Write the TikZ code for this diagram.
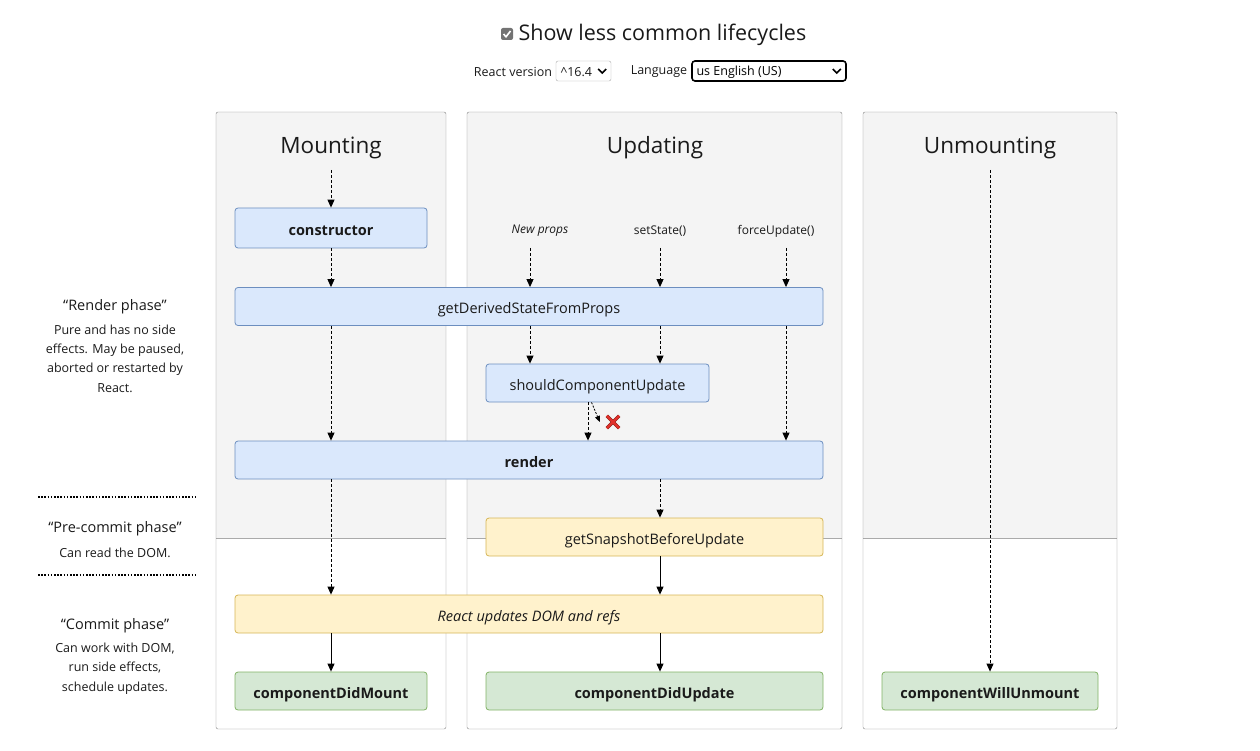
\documentclass[tikz,border=0pt]{standalone}
\usepackage{fontspec}
\setmainfont{Open Sans}
\usetikzlibrary{arrows.meta, positioning, calc}
\definecolor{RLBlueFill}{HTML}{DAE8FC}
\definecolor{RLBlueLine}{HTML}{6C8EBF}
\definecolor{RLYellowFill}{HTML}{FFF2CC}
\definecolor{RLYellowLine}{HTML}{D6B656}
\definecolor{RLGreenFill}{HTML}{D5E8D4}
\definecolor{RLGreenLine}{HTML}{82B366}
\definecolor{RLPanel}{HTML}{F4F4F4}
\definecolor{RLFrame}{HTML}{858585}
\definecolor{RLRule}{HTML}{AAAAAA}
\definecolor{RLText}{HTML}{1A1A1A}
\definecolor{RLRed}{HTML}{E0302A}
\definecolor{RLDarkRed}{HTML}{8A1A14}

\begin{document}
\begin{tikzpicture}[x=1pt, y=-1pt,
      box/.style={rectangle, rounded corners=3pt, line width=0.8pt,
                  minimum height=38pt, inner sep=0pt, text=RLText,
                  text height=14.5pt, text depth=0pt,
                  font=\fontsize{14.5}{17}\selectfont},
      blue/.style={box, draw=RLBlueLine, fill=RLBlueFill},
      yellow/.style={box, draw=RLYellowLine, fill=RLYellowFill},
      green/.style={box, draw=RLGreenLine, fill=RLGreenFill,
                    font=\fontsize{14.5}{17}\selectfont\bfseries},
      colhead/.style={font=\fontsize{22.5}{26}\selectfont, text=RLText},
      trig/.style={font=\fontsize{12}{14}\selectfont, text=RLText},
      phase/.style={font=\fontsize{14.5}{17}\selectfont, text=RLText},
      phdesc/.style={font=\fontsize{12.5}{19.3}\selectfont, text=RLText,
                     align=center},
      dasharr/.style={-{Triangle[length=8pt,width=7pt]}, line width=0.9pt,
                      dash pattern=on 3pt off 2pt},
      solarr/.style={-{Triangle[length=8pt,width=7pt]}, line width=1pt},
      dots/.style={line width=1.6pt, dash pattern=on 1.6pt off 1.6pt}
    ]
    \useasboundingbox (0,0) rectangle (1260,751);

    %--- Top controls ---
    \node[fill=black!55, rounded corners=2pt, minimum size=12pt,
          inner sep=0pt] (chk) at (507,34) {};
    \draw[white, line width=1.6pt] ($(chk)+(-3.5,0)$) -- ($(chk)+(-1,2.8)$)
          -- ($(chk)+(3.5,-3)$);
    \node[font=\fontsize{21.5}{26}\selectfont, text=RLText, anchor=west]
          (title) at (515,35) {Show less common lifecycles};

    \node[font=\fontsize{12.5}{15}\selectfont, text=RLText]
          (verlbl) at (513,72) {React version};
    \node[draw=RLRule, rounded corners=2pt, minimum width=55pt,
          minimum height=20pt, inner sep=0pt] (verbox) at (583.5,71) {};
    \node[font=\fontsize{12.5}{15}\selectfont, text=RLText, anchor=west]
          (vertxt) at (557,72) {\textasciicircum16.4};
    \draw[line width=1.6pt] ($(verbox.east)+(-13,-2)$) -- ($(verbox.east)+(-9,2)$)
          -- ($(verbox.east)+(-5,-2)$);

    \node[font=\fontsize{12.5}{15}\selectfont, text=RLText]
          (langlbl) at (659,72) {Language};
    \node[draw=black, line width=1.6pt, rounded corners=3pt, minimum width=154pt,
          minimum height=20pt, inner sep=0pt] (langbox) at (769,71) {};
    \node[font=\fontsize{12.5}{15}\selectfont, anchor=west]
          (langtxt) at (693,72) {us English (US)};
    \draw[line width=1.6pt] ($(langbox.east)+(-14,-2)$) -- ($(langbox.east)+(-10,2)$)
          -- ($(langbox.east)+(-6,-2)$);

    %--- Columns ---
    \foreach \xa/\xb in {216/446, 467/842, 863/1117} {
      \fill[RLPanel] (\xa,112) rectangle (\xb,538);
      \draw[RLRule] (\xa,538) -- (\xb,538);
      \draw[RLFrame, rounded corners=2pt] (\xa,112) rectangle (\xb,729);
    }
    \node[colhead] (mhead) at (331,148) {Mounting};
    \node[colhead] (uhead) at (655,148) {Updating};
    \node[colhead] (xhead) at (990,148) {Unmounting};

    %--- Phases (left) ---
    \node[phase] (renderph) at (115,307) {“Render phase”};
    \node[phdesc] (renderds) at (115,358.5)
          {Pure and has no side\\effects. May be paused,\\aborted or restarted by\\React.};
    \draw[dots] (38,497) -- (196,497);
    \node[phase] (preph) at (115,529) {“Pre-commit phase”};
    \node[phdesc] (preds) at (115,552.5) {Can read the DOM.};
    \draw[dots] (38,575) -- (196,575);
    \node[phase] (commitph) at (115,626) {“Commit phase”};
    \node[phdesc] (commitds) at (115,668.5)
          {Can work with DOM,\\run side effects,\\schedule updates.};

    %--- Lifecycle boxes ---
    \node[blue, minimum width=192pt, minimum height=40pt,
          font=\fontsize{14.5}{17}\selectfont\bfseries] (cons) at (331,228) {constructor};
    \node[blue, minimum width=588pt] (gdsfp) at (529,306.5) {getDerivedStateFromProps};
    \node[blue, minimum width=223pt] (scu) at (597.5,383) {shouldComponentUpdate};
    \node[blue, minimum width=588pt,
          font=\fontsize{14.5}{17}\selectfont\bfseries] (render) at (529,460) {render};
    \node[yellow, minimum width=337pt] (gsbu) at (654.5,537) {getSnapshotBeforeUpdate};
    \node[yellow, minimum width=588pt,
          font=\fontsize{14.5}{17}\selectfont\itshape] (rudr) at (529,614)
          {React updates DOM and refs};
    \node[green, minimum width=192pt] (cdm) at (331,691) {componentDidMount};
    \node[green, minimum width=337pt] (cdu) at (654.5,691) {componentDidUpdate};
    \node[green, minimum width=216pt] (cwu) at (990,691) {componentWillUnmount};

    %--- Update triggers ---
    \foreach \nm/\x/\tx/\txt in {np/530/540/\textit{New props},
                                 ss/660/660/setState(),
                                 fu/786/776/forceUpdate()} {
      \node[trig] (\nm lbl) at (\tx,231) {\txt};
      \coordinate (\nm) at (\x,248);
    }

    %--- Mounting arrows ---
    \coordinate (mtop) at (331,170);
    \draw[dasharr] (mtop) -- (cons.north);
    \draw[dasharr] (cons.south) -- (cons.south |- gdsfp.north);
    \draw[dasharr] (gdsfp.south -| cons) -- (cons |- render.north);
    \draw[dasharr] (render.south -| cons) -- (cons |- rudr.north);
    \draw[solarr] (rudr.south -| cdm) -- (cdm.north);

    %--- Updating arrows ---
    \foreach \nm in {np, ss, fu}
      \draw[dasharr] (\nm) -- (\nm |- gdsfp.north);
    \draw[dasharr] (gdsfp.south -| np) -- (np |- scu.north);
    \draw[dasharr] (gdsfp.south -| ss) -- (ss |- scu.north);
    \draw[dasharr] (gdsfp.south -| fu) -- (fu |- render.north);
    \coordinate (scuout) at ([xshift=-9.5pt]scu.south);
    \draw[dasharr] (scuout) -- (scuout |- render.north);

    \node[minimum size=12pt, inner sep=0pt] (stop) at (613,422) {};
    \foreach \c/\w in {RLDarkRed/3.4pt, RLRed/2.2pt}
      \draw[\c, line width=\w] (stop.north west) -- (stop.south east)
            (stop.north east) -- (stop.south west);
    \draw[-{Triangle[length=6pt,width=5pt]}, line width=0.8pt,
          dash pattern=on 2pt off 1.5pt] ([xshift=-6pt]scu.south)
          -- ([xshift=-7pt]stop.west);

    \draw[dasharr] (render.south -| ss) -- (ss |- gsbu.north);
    \draw[solarr] (gsbu.south -| ss) -- (ss |- rudr.north);
    \draw[solarr] (rudr.south -| ss) -- (ss |- cdu.north);

    %--- Unmounting arrow ---
    \coordinate (utop) at (990,170);
    \draw[dasharr] (utop) -- (cwu.north);
  \end{tikzpicture}
\end{document}
